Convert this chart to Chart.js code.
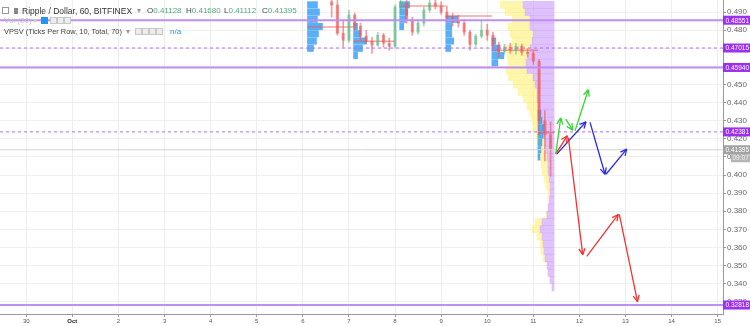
<!DOCTYPE html>
<html>
<head>
<meta charset="utf-8">
<style>
  html, body { margin: 0; padding: 0; background: #fff; }
  #wrap { position: relative; width: 750px; height: 326px; font-family: "Liberation Sans", Arial, sans-serif; }
  #legend { position: absolute; left: 0; top: 0; width: 300px; height: 40px; pointer-events: none; }
  #legend span { position: absolute; white-space: nowrap; font-size: 8px; line-height: 10px; }
  #legend .ico { width: 5px; height: 5px; border: 1px solid #c8c8c8; background: #ededed; }
  #legend .r1 { font-size: 8.5px; }
  #legend .r3 { font-size: 7.4px; }
  #legend .val { color: #55a97d; font-weight: normal; }
  #legend .lbl { color: #444; }
</style>
</head>
<body>
<div id="wrap">
  <canvas id="chart"></canvas>
  <div id="legend">
    <span class="ico" style="left:2px;top:7px;background:#fff;border-color:#999"></span>
    <span style="left:14px;top:8px;width:4px;height:6px;background:#888"></span>
    <span class="r1" style="left:22px;top:6px;color:#333">Ripple / Dollar, 60, BITFINEX</span>
    <span style="left:137px;top:6px;color:#999">▾</span>
    <span class="lbl" style="left:147px;top:6px">O<b class="val">0.41128</b></span>
    <span class="lbl" style="left:186px;top:6px">H<b class="val">0.41680</b></span>
    <span class="lbl" style="left:224px;top:6px">L<b class="val">0.41112</b></span>
    <span class="lbl" style="left:262px;top:6px">C<b class="val">0.41395</b></span>

    <span style="left:4px;top:16px;color:#c4c4c4">Vol (20)</span>
    <span style="left:33px;top:16px;color:#ccc">▾</span>
    <span class="ico" style="left:41px;top:17px;background:#2196f3;border-color:#2196f3"></span>
    <span class="ico" style="left:50px;top:17px"></span>
    <span class="ico" style="left:57px;top:17px"></span>
    <span class="ico" style="left:64px;top:17px"></span>

    <span class="r3" style="left:4px;top:27px;color:#444">VPSV (Ticks Per Row, 10, Total, 70)</span>
    <span style="left:126px;top:27px;color:#999">▾</span>
    <span class="ico" style="left:135px;top:28px"></span>
    <span class="ico" style="left:142px;top:28px"></span>
    <span class="ico" style="left:149px;top:28px"></span>
    <span class="ico" style="left:156px;top:28px"></span>
    <span style="left:170px;top:27px;color:#2196f3">n/a</span>
  </div>
</div>
<script src="https://cdn.jsdelivr.net/npm/chart.js@4.4.0/dist/chart.umd.min.js"></script>
<script>
  // x values are days: 0 = Sep 30, 1 = Oct 1, ...
  const X_MIN = -0.57, X_MAX = 15.115;
  const Y_MIN = 0.32322, Y_MAX = 0.49667;

  const dayTicks = [0, 1, 2, 3, 4, 5, 6, 7, 8, 9, 10, 11, 12, 13, 14, 15];
  const dayLabels = ['30', 'Oct', '2', '3', '4', '5', '6', '7', '8', '9', '10', '11', '12', '13', '14', '15'];

  // 3h candles
  const candleTime = [6.625, 6.75, 6.875, 7.0, 7.125, 7.25, 7.375, 7.5, 7.625, 7.75, 7.875,
    8.0, 8.125, 8.25, 8.375, 8.5, 8.625, 8.75, 8.875, 9.0, 9.125, 9.25, 9.375, 9.5, 9.625,
    9.75, 9.875, 10.0, 10.125, 10.25, 10.375, 10.5, 10.625, 10.75, 10.875, 11.0, 11.125, 11.25, 11.375];
  const candleOpen = [0.4956, 0.4939, 0.4783, 0.4744, 0.4883, 0.4822, 0.4767, 0.4739, 0.4717, 0.4772, 0.4728,
    0.4711, 0.4928, 0.4950, 0.4856, 0.4789, 0.4839, 0.4911, 0.4950, 0.4933, 0.4900, 0.4872, 0.4850, 0.4839, 0.4789,
    0.4722, 0.4767, 0.4800, 0.4772, 0.4717, 0.4683, 0.4706, 0.4689, 0.4711, 0.4678, 0.4672, 0.4628, 0.4300, 0.4222];
  const candleHigh = [0.4990, 0.4967, 0.4856, 0.4911, 0.4894, 0.4839, 0.4800, 0.4761, 0.4789, 0.4783, 0.4756,
    0.4939, 0.4980, 0.4975, 0.4872, 0.4861, 0.4928, 0.4975, 0.4967, 0.4956, 0.4933, 0.4894, 0.4883, 0.4861, 0.4800,
    0.4778, 0.4856, 0.4833, 0.4789, 0.4733, 0.4722, 0.4728, 0.4728, 0.4722, 0.4700, 0.4683, 0.4639, 0.4356, 0.4294];
  const candleLow = [0.4872, 0.4772, 0.4706, 0.4733, 0.4800, 0.4744, 0.4728, 0.4672, 0.4711, 0.4706, 0.4689,
    0.4700, 0.4906, 0.4839, 0.4772, 0.4778, 0.4822, 0.4900, 0.4917, 0.4889, 0.4850, 0.4822, 0.4817, 0.4772, 0.4689,
    0.4711, 0.4756, 0.4744, 0.4700, 0.4650, 0.4667, 0.4672, 0.4667, 0.4661, 0.4650, 0.4611, 0.4222, 0.4078, 0.3994];
  const candleClose = [0.4939, 0.4783, 0.4744, 0.4883, 0.4822, 0.4767, 0.4739, 0.4717, 0.4772, 0.4728, 0.4711,
    0.4928, 0.4950, 0.4856, 0.4789, 0.4839, 0.4911, 0.4950, 0.4933, 0.4900, 0.4872, 0.4850, 0.4839, 0.4789, 0.4722,
    0.4767, 0.4800, 0.4772, 0.4717, 0.4683, 0.4706, 0.4689, 0.4711, 0.4678, 0.4672, 0.4628, 0.4300, 0.4222, 0.41395];
  const lastPrice = 0.41395;
  const countdown = '09:07';

  // horizontal levels
  const solidLevels = [0.48551, 0.45940, 0.32818];
  const dashedLevels = [0.47015, 0.42381];

  // session volume profiles (blue), rows of [price, volume]
  const sessionStart = [6.1, 7.1, 8.1, 9.1, 10.1, 11.1];
  const sessionEnd = [7.1, 8.0, 9.1, 10.1, 11.1, 11.45];
  const sessionPoc = [0.4817, 0.4739, 0.4933, 0.4878, 0.4689, 0.4233];
  const sessionRows = [
    [[0.494, 10], [0.490, 12], [0.486, 10], [0.482, 15], [0.478, 11], [0.474, 9], [0.470, 6]],
    [[0.482, 4], [0.478, 7], [0.474, 13], [0.470, 9], [0.466, 4]],
    [[0.494, 10], [0.490, 8], [0.486, 6], [0.482, 4]],
    [[0.486, 12], [0.482, 6], [0.478, 6], [0.474, 8], [0.470, 5]],
    [[0.474, 4], [0.470, 8], [0.466, 12], [0.462, 6]],
    [[0.434, 3], [0.430, 4], [0.426, 6], [0.422, 5], [0.418, 4], [0.414, 3], [0.410, 2]]
  ];

  // visible range profile, anchored at the last bar
  const profileEnd = 11.45;
  const profilePrice = [0.494, 0.490, 0.486, 0.482, 0.478, 0.474, 0.470, 0.466, 0.462, 0.458,
    0.454, 0.450, 0.446, 0.442, 0.438, 0.434, 0.430, 0.426, 0.422, 0.418,
    0.414, 0.410, 0.406, 0.402, 0.398, 0.394, 0.390, 0.386, 0.382, 0.378,
    0.374, 0.370, 0.366, 0.362, 0.358, 0.354, 0.350, 0.346, 0.342, 0.338];
  const purpleVol = [31, 29, 24, 24, 21, 22, 24, 26, 28, 27, 21, 19, 17, 17, 16, 14, 13, 12, 11, 9,
    8, 7, 6, 6, 5, 4, 4, 5, 6, 7, 12, 14, 12, 11, 10, 9, 7, 6, 4, 2];
  const yellowVol = [23, 20, 18, 22, 23, 20, 25, 21, 18, 21, 25, 22, 19, 14, 11, 10, 9, 9, 7, 8,
    8, 8, 7, 6, 5, 4, 2, 0, 0, 1, 7, 8, 5, 3, 3, 2, 0, 0, 0, 0];

  // drawn arrows: [t0, p0, t1, p1]
  const greenArrows = [[11.486, 0.4115, 11.594, 0.4315], [11.703, 0.4309, 11.855, 0.4248], [11.905, 0.4244, 12.193, 0.4471]];
  const redArrows = [[11.486, 0.4115, 11.738, 0.4217], [11.760, 0.4207, 12.072, 0.3559], [12.159, 0.3550, 12.844, 0.3782], [12.866, 0.3782, 13.26, 0.3300]];
  const blueArrows = [[11.508, 0.4115, 12.143, 0.4294], [12.230, 0.4291, 12.556, 0.4004], [12.577, 0.4004, 13.026, 0.4143]];

  const VOL_DAYS = 1 / 46.1; // one volume unit -> days of width
  const ROW_PX = 7.2;
  const UP = 'rgba(90,180,125,0.55)', DOWN = 'rgba(236,90,88,0.6)';
  const LEVEL = '#bf8ef2', TAG = '#9b2ff2';

  const datasets = [];
  [[greenArrows, '#33d633'], [redArrows, '#f03434'], [blueArrows, '#2a2ae6']].forEach(([segs, color]) => {
    segs.forEach(s => datasets.push({
      type: 'line', data: [{ x: s[0], y: s[1] }, { x: s[2], y: s[3] }],
      borderColor: color, borderWidth: 1.3, pointRadius: 0, arrow: true, order: 0
    }));
  });
  solidLevels.forEach(p => datasets.push({
    type: 'line', data: [{ x: X_MIN, y: p }, { x: X_MAX, y: p }],
    borderColor: LEVEL, borderWidth: 2, pointRadius: 0, order: 1
  }));
  dashedLevels.forEach(p => datasets.push({
    type: 'line', data: [{ x: X_MIN, y: p }, { x: X_MAX, y: p }],
    borderColor: '#b46cf0', borderWidth: 1, borderDash: [3, 3], pointRadius: 0, order: 1
  }));
  datasets.push({
    type: 'line', data: [{ x: X_MIN, y: lastPrice }, { x: X_MAX, y: lastPrice }],
    borderColor: '#d4d4d4', borderWidth: 1, pointRadius: 0, order: 1
  });
  const candleColor = candleTime.map((t, i) => candleClose[i] >= candleOpen[i] ? UP : DOWN);
  datasets.push({
    type: 'bar', grouped: false, barThickness: 2.5, order: 2,
    data: candleTime.map((t, i) => ({ x: t, y: [candleOpen[i], candleClose[i]] })),
    backgroundColor: candleColor
  });
  datasets.push({
    type: 'bar', grouped: false, barThickness: 1, order: 3,
    data: candleTime.map((t, i) => ({ x: t, y: [candleLow[i], candleHigh[i]] })),
    backgroundColor: candleColor
  });
  sessionStart.forEach((s, k) => {
    datasets.push({
      type: 'line', data: [{ x: s, y: sessionPoc[k] }, { x: sessionEnd[k], y: sessionPoc[k] }],
      borderColor: 'rgba(239,83,80,0.55)', borderWidth: 1.5, pointRadius: 0, order: 4
    });
    datasets.push({
      type: 'bar', indexAxis: 'y', grouped: false, barThickness: ROW_PX - 0.8, order: 5,
      data: sessionRows[k].map(r => ({ y: r[0], x: [s, s + r[1] * VOL_DAYS] })),
      backgroundColor: 'rgba(33,150,243,0.75)'
    });
  });
  datasets.push({
    type: 'bar', indexAxis: 'y', grouped: false, barThickness: ROW_PX, order: 6,
    data: profilePrice.map((p, i) => ({ y: p, x: [profileEnd - purpleVol[i] * VOL_DAYS, profileEnd] })),
    backgroundColor: 'rgba(206,160,250,0.65)'
  });
  datasets.push({
    type: 'bar', indexAxis: 'y', grouped: false, barThickness: ROW_PX, order: 6,
    data: profilePrice.map((p, i) => ({
      y: p, x: [profileEnd - (purpleVol[i] + yellowVol[i]) * VOL_DAYS, profileEnd - purpleVol[i] * VOL_DAYS]
    })),
    backgroundColor: 'rgba(255,240,120,0.6)'
  });

  const arrowHeads = {
    id: 'arrowHeads',
    afterDatasetsDraw(chart) {
      const ctx = chart.ctx;
      chart.data.datasets.forEach((ds, i) => {
        if (!ds.arrow) return;
        const pts = chart.getDatasetMeta(i).data;
        const a = pts[pts.length - 2], b = pts[pts.length - 1];
        const ang = Math.atan2(b.y - a.y, b.x - a.x);
        ctx.save();
        ctx.strokeStyle = ds.borderColor;
        ctx.lineWidth = 1.3;
        ctx.beginPath();
        [-0.45, 0.45].forEach(d => {
          ctx.moveTo(b.x, b.y);
          ctx.lineTo(b.x - 7 * Math.cos(ang + d), b.y - 7 * Math.sin(ang + d));
        });
        ctx.stroke();
        ctx.restore();
      });
    }
  };

  const priceTags = {
    id: 'priceTags',
    afterDraw(chart) {
      const { ctx, chartArea } = chart;
      const y = chart.scales.y;
      const left = chartArea.right;
      ctx.save();
      ctx.font = '6.5px "Liberation Sans", Arial, sans-serif';
      ctx.textBaseline = 'middle';
      [...solidLevels, ...dashedLevels].forEach(p => {
        const py = y.getPixelForValue(p);
        ctx.fillStyle = TAG;
        ctx.fillRect(left, py - 4.5, 27, 9);
        ctx.fillStyle = '#fff';
        ctx.fillText(p.toFixed(5), left + 2.5, py + 0.5);
      });
      const py = y.getPixelForValue(lastPrice);
      ctx.fillStyle = '#a3a3a3';
      ctx.fillRect(left, py - 4.5, 27, 9);
      ctx.fillStyle = '#fff';
      ctx.fillText(lastPrice.toFixed(5), left + 2.5, py + 0.5);
      ctx.fillStyle = '#b5b5b5';
      ctx.fillRect(left + 8, py + 4.5, 19, 8);
      ctx.fillStyle = '#eee';
      ctx.fillText(countdown, left + 9.5, py + 8.8);
      ctx.restore();
    }
  };

  const noPad = s => { s.paddingTop = 0; s.paddingBottom = 0; s.paddingLeft = 0; s.paddingRight = 0; };

  new Chart(document.getElementById('chart'), {
    type: 'line',
    data: { datasets },
    options: {
      responsive: true,
      maintainAspectRatio: false,
      animation: false,
      layout: { padding: 0, autoPadding: false },
      plugins: { legend: { display: false }, tooltip: { enabled: false } },
      scales: {
        x: {
          type: 'linear', position: 'bottom', min: X_MIN, max: X_MAX, offset: false,
          afterBuildTicks: s => { s.ticks = dayTicks.map(v => ({ value: v })); },
          afterFit: s => { s.height = 12; noPad(s); },
          grid: { color: '#ededed', offset: false, tickLength: 3, tickColor: '#999' },
          border: { color: '#9a9a9a' },
          ticks: {
            autoSkip: false, maxRotation: 0, padding: 1,
            color: c => c.index === 1 ? '#222' : '#555',
            font: c => ({ size: 6, weight: c.index === 1 ? 'bold' : 'normal', family: '"Liberation Sans", Arial, sans-serif' }),
            callback: (v, i) => dayLabels[i]
          }
        },
        y: {
          type: 'linear', position: 'right', min: Y_MIN, max: Y_MAX, offset: false,
          afterFit: s => { s.width = 27; noPad(s); },
          grid: { color: '#efefef', offset: false, tickLength: 3, tickColor: '#999' },
          border: { color: '#9a9a9a' },
          ticks: {
            stepSize: 0.01, includeBounds: false, padding: 1, color: '#666',
            font: { size: 8, family: '"Liberation Sans", Arial, sans-serif' },
            callback: v => v.toFixed(3)
          }
        }
      }
    },
    plugins: [arrowHeads, priceTags]
  });
</script>
</body>
</html>
